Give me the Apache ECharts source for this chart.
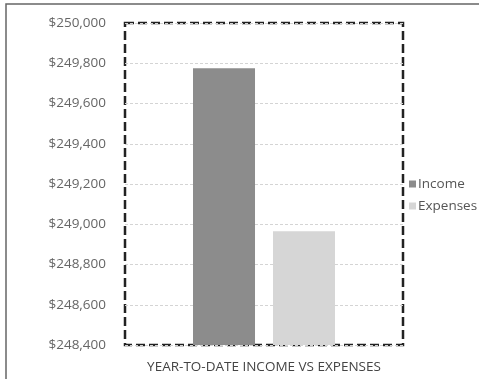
<!DOCTYPE html>
<html>
<head>
<meta charset="utf-8">
<style>
  html, body { margin: 0; padding: 0; background: #fff; }
  #chart { width: 479px; height: 379px; }
</style>
<script src="https://cdn.jsdelivr.net/npm/echarts@6/dist/echarts.min.js"></script>
</head>
<body>
<div id="chart"></div>
<script>
  const categories = ['YTD'];
  const incomeValues = [249775];
  const expenseValues = [248965];
  const seriesNames = ['Income', 'Expenses'];
  const chartTitle = 'YEAR-TO-DATE INCOME VS EXPENSES';

  const chart = echarts.init(document.getElementById('chart'));
  const font = '"Open Sans", sans-serif';

  chart.setOption({
    backgroundColor: '#fff',
    animation: false,
    textStyle: { fontFamily: font },
    graphic: [
      {
        type: 'polyline',
        shape: { points: [[6, 379], [6, 4], [479, 4]] },
        style: { stroke: '#666', lineWidth: 1.5, fill: null },
        silent: true,
      },
    ],
    grid: {
      left: 125,
      right: 76,
      top: 23,
      bottom: 26,
      show: true,
      borderColor: '#222',
      borderWidth: 2.5,
      borderType: [9, 4],
      backgroundColor: 'transparent',
    },
    legend: {
      orient: 'vertical',
      left: 404,
      top: 172,
      itemWidth: 7,
      itemHeight: 7,
      itemGap: 8,
      icon: 'rect',
      data: seriesNames,
      textStyle: { color: '#555', fontSize: 13.5, fontFamily: font, padding: [0, 0, 0, -3] },
    },
    xAxis: {
      type: 'category',
      data: categories,
      name: chartTitle,
      nameLocation: 'middle',
      nameGap: 15,
      nameTextStyle: { color: '#444', fontSize: 13.5, fontFamily: font },
      axisLine: { show: false },
      axisTick: { show: false },
      axisLabel: { show: false },
    },
    yAxis: {
      type: 'value',
      min: 248400,
      max: 250000,
      interval: 200,
      axisLine: { show: false },
      axisTick: { show: false },
      axisLabel: {
        color: '#666',
        fontSize: 13.5,
        margin: 19,
        fontFamily: font,
        formatter: (v) => '$' + v.toLocaleString('en-US'),
      },
      splitLine: { lineStyle: { color: '#d4d4d4', type: [3, 2], width: 1 } },
    },
    series: [
      {
        name: seriesNames[0],
        type: 'bar',
        data: incomeValues,
        barWidth: 62,
        barGap: '29%',
        itemStyle: { color: '#8c8c8c' },
      },
      {
        name: seriesNames[1],
        type: 'bar',
        data: expenseValues,
        barWidth: 62,
        itemStyle: { color: '#d6d6d6' },
      },
    ],
  });
</script>
</body>
</html>
